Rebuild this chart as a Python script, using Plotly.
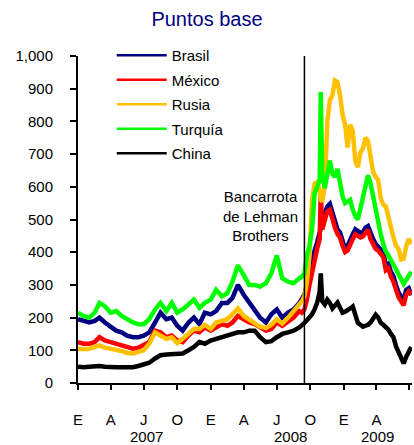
import plotly.graph_objects as go

# ---- categories (dates): semi-monthly to Aug 2008, weekly afterwards ----
dates_pre = [
    "2007-01-01", "2007-01-16", "2007-02-01", "2007-02-16", "2007-03-01", "2007-03-16",
    "2007-04-01", "2007-04-16", "2007-05-01", "2007-05-16", "2007-06-01", "2007-06-16",
    "2007-07-01", "2007-07-16", "2007-08-01", "2007-08-16", "2007-09-01", "2007-09-16",
    "2007-10-01", "2007-10-16", "2007-11-01", "2007-11-16", "2007-12-01", "2007-12-16",
    "2008-01-01", "2008-01-16", "2008-02-01", "2008-02-16", "2008-03-01", "2008-03-16",
    "2008-04-01", "2008-04-16", "2008-05-01", "2008-05-16", "2008-06-01", "2008-06-16",
    "2008-07-01", "2008-07-16", "2008-08-01", "2008-08-16",
]
dates_crisis = [
    "2008-09-01", "2008-09-08", "2008-09-15", "2008-09-22", "2008-09-29", "2008-10-06",
    "2008-10-13", "2008-10-20", "2008-10-27", "2008-10-30", "2008-11-03", "2008-11-10",
    "2008-11-17", "2008-11-24", "2008-12-01", "2008-12-08", "2008-12-15", "2008-12-22",
    "2008-12-29", "2009-01-05", "2009-01-12", "2009-01-19", "2009-01-26", "2009-02-02",
    "2009-02-09", "2009-02-16", "2009-02-23", "2009-03-02", "2009-03-09", "2009-03-16",
    "2009-03-23", "2009-03-30", "2009-04-06", "2009-04-13", "2009-04-20", "2009-04-27",
    "2009-05-04", "2009-05-11", "2009-05-18", "2009-05-25", "2009-06-01", "2009-06-08",
    "2009-06-15", "2009-06-22", "2009-06-29", "2009-07-06",
]
dates = dates_pre + dates_crisis

# ---- series values (basis points) ----
brasil = [
    195, 190, 185, 190, 200, 185, 170, 160, 155, 145, 140, 140, 145, 155, 185, 215, 195, 200,
    175, 160, 185, 200, 180, 215, 210, 220, 245, 245, 260, 300, 270, 245, 220, 200, 185, 210,
    225, 200, 215, 225,
    245, 255, 270, 300, 340, 370, 405, 430, 455, 470, 490, 520, 540, 548, 520, 495, 470, 460,
    435, 410, 420, 440, 455, 470, 465, 460, 462, 475, 480, 455, 440, 425, 418, 408, 400, 360,
    365, 340, 326, 300, 277, 265, 255, 285, 290, 268,
]
mexico = [
    125, 120, 120, 125, 140, 130, 125, 120, 115, 110, 105, 108, 115, 125, 160, 155, 140, 145,
    130, 125, 145, 160, 155, 170, 160, 170, 180, 175, 185, 205, 195, 185, 180, 170, 160, 165,
    185, 175, 190, 200,
    220, 215, 225, 255, 300, 340, 380, 410, 440, 585, 470, 500, 525, 530, 500, 475, 455, 445,
    420, 400, 405, 425, 440, 455, 450, 445, 448, 460, 468, 440, 425, 410, 405, 395, 385, 345,
    350, 325, 310, 285, 262, 250, 238, 270, 280, 270,
]
rusia = [
    105, 103, 105, 110, 115, 108, 105, 100, 98, 92, 90, 95, 100, 120, 155, 145, 135, 140,
    122, 135, 150, 165, 165, 178, 165, 185, 190, 195, 210, 228, 205, 195, 185, 172, 168, 178,
    195, 182, 200, 218,
    240, 250, 265, 310, 390, 560, 610, 615, 590, 560, 555, 600, 800, 865, 880, 925, 920, 880,
    820, 790, 720, 790, 770, 680, 660, 705, 717, 750, 740, 680, 646, 630, 620, 565, 545, 540,
    505, 475, 445, 420, 410, 378, 380, 418, 440, 425,
]
turquia = [
    215, 205, 200, 215, 245, 235, 215, 220, 205, 195, 185, 180, 180, 195, 225, 245, 220, 245,
    215, 225, 240, 255, 230, 245, 255, 285, 265, 275, 310, 360, 330, 300, 300, 295, 305, 335,
    390, 320, 310, 305,
    320, 325, 335, 390, 420, 470, 580, 600, 620, 890, 640, 595, 640, 680, 640, 630, 655, 610,
    570, 550, 555, 560, 530, 510, 500, 535, 570, 610, 635, 610, 572, 520, 490, 455, 425, 402,
    390, 378, 362, 348, 332, 317, 303, 315, 328, 340,
]
china = [
    50, 48, 50, 52, 52, 50, 48, 48, 48, 47, 48, 52, 58, 62, 75, 85, 87, 88,
    88, 90, 100, 110, 125, 120, 130, 135, 140, 145, 150, 155, 155, 160, 160, 140, 125, 128,
    140, 150, 155, 160,
    170, 175, 184, 192, 200, 210, 225, 245, 280, 335, 250, 240, 255, 245, 228, 240, 246, 230,
    215, 218, 222, 228, 234, 205, 184, 178, 172, 175, 178, 185, 195, 209, 200, 184, 178, 170,
    163, 150, 140, 112, 95, 70, 60, 80, 95, 110,
]

series_names = ["Brasil", "México", "Rusia", "Turquía", "China"]
series_values = [brasil, mexico, rusia, turquia, china]
series_colors = ["#000080", "#FF0000", "#FFC000", "#00FF00", "#000000"]

tick_dates = ["2007-01-01", "2007-04-01", "2007-07-01", "2007-10-01", "2008-01-01",
              "2008-04-01", "2008-07-01", "2008-10-01", "2009-01-01", "2009-04-01",
              "2009-07-01"]
tick_labels = ["E", "A", "J", "O", "E", "A", "J", "O", "E", "A", ""]
year_labels = ["2007", "2008", "2009"]
year_positions = ["2007-07-08", "2008-08-07", "2009-04-04"]
y_ticks = [0, 100, 200, 300, 400, 500, 600, 700, 800, 900, 1000]
lehman_date = "2008-09-15"

FONT = "Liberation Sans, Arial, sans-serif"

fig = go.Figure()
for name, vals, col in zip(series_names, series_values, series_colors):
    fig.add_trace(go.Scatter(x=dates, y=vals, name=name, mode="lines",
                             legendgroup=name, showlegend=False,
                             line=dict(color=col, width=4.5)))
# legend entries (thinner sample lines, as in the original)
for name, col in zip(series_names, series_colors):
    fig.add_trace(go.Scatter(x=[None], y=[None], name=name, mode="lines",
                             legendgroup=name, showlegend=True,
                             line=dict(color=col, width=2.7)))

fig.add_shape(type="line", xref="x", yref="y", x0=lehman_date, x1=lehman_date,
              y0=0, y1=1000, line=dict(color="black", width=1.5))

fig.add_annotation(x="2008-05-17", y=510, xref="x", yref="y",
                   text="Bancarrota<br>de Lehman<br>Brothers", showarrow=False,
                   align="center", font=dict(family=FONT, size=15, color="black"))

for yl, yp in zip(year_labels, year_positions):
    fig.add_annotation(x=yp, y=-0.165, xref="x", yref="paper", text=yl,
                       showarrow=False, yanchor="middle",
                       font=dict(family=FONT, size=15, color="black"))

fig.update_layout(
    width=414, height=445,
    margin=dict(l=78, r=2, t=56, b=62, autoexpand=False),
    paper_bgcolor="white", plot_bgcolor="white",
    font=dict(family=FONT, size=15, color="black"),
    title=dict(text="Puntos base", x=207 / 414, xref="container", y=1 - 19 / 445,
               yref="container", xanchor="center", yanchor="middle",
               font=dict(family=FONT, size=20, color="#000080")),
    legend=dict(x=0.101, y=1.052, xanchor="left", yanchor="top",
                bgcolor="rgba(0,0,0,0)", font=dict(family=FONT, size=15),
                itemwidth=50, tracegroupgap=2),
    xaxis=dict(type="date", range=["2007-01-01", "2009-07-08"],
               tickmode="array", tickvals=tick_dates, ticktext=tick_labels,
               showline=True, linecolor="black", linewidth=2,
               ticks="outside", ticklen=5, tickwidth=1.5, tickcolor="black",
               showgrid=False, zeroline=False, ticklabelstandoff=17,
               automargin=False),
    yaxis=dict(range=[0, 1000], tickmode="array", tickvals=y_ticks,
               tickformat=",", showline=True, linecolor="black", linewidth=2,
               ticks="outside", ticklen=6, tickwidth=1.5, tickcolor="black",
               showgrid=False, zeroline=False, ticklabelstandoff=14,
               automargin=False),
)

fig.write_html(
    "out.html",
    config={"displayModeBar": False},
    post_script="document.body.style.margin='0';document.body.style.overflow='hidden';",
)
